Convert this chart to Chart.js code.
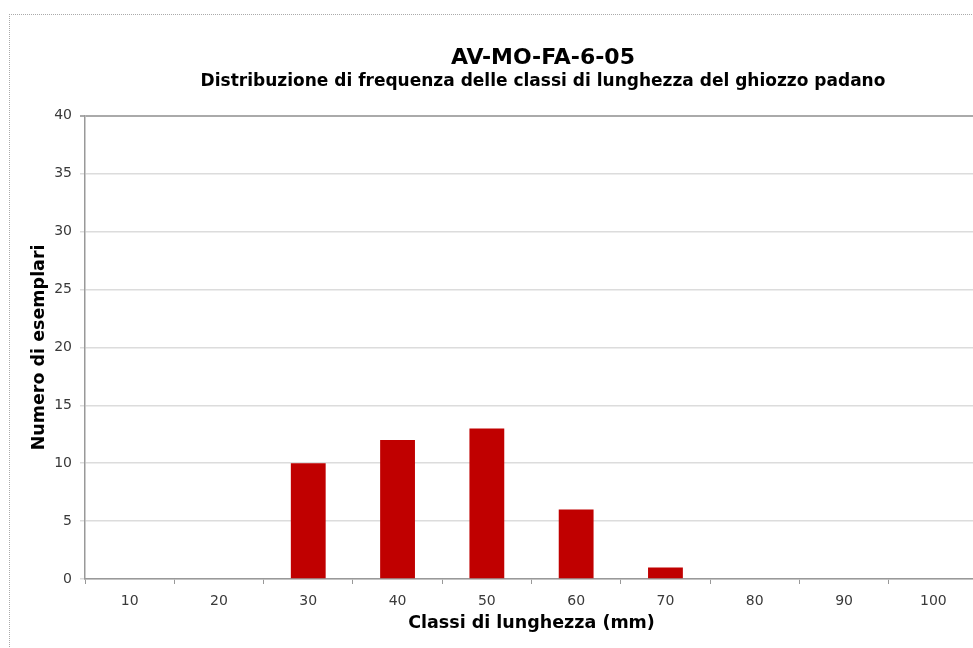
<!DOCTYPE html>
<html>
<head>
<meta charset="utf-8">
<script src="https://cdn.jsdelivr.net/npm/chart.js@4"></script>
<style>
    html, body { margin: 0; padding: 0; background: #fff; overflow: hidden; }
    #frame {
        position: absolute; left: 9px; top: 14px;
        width: 1200px; height: 800px;
        border-left: 1px dotted #aaa; border-top: 1px dotted #aaa;
    }
    #chart { display: block; }
</style>
</head>
<body>
<div id="frame">
    <canvas id="chart" width="1066" height="633"></canvas>
</div>
<script>
// length classes (mm) and number of specimens
const lengthClasses = ['10', '20', '30', '40', '50', '60', '70', '80', '90', '100'];
const specimenCounts = [0, 0, 10, 12, 13, 6, 1, 0, 0, 0];
const yTicks = { min: 0, max: 40, step: 5 };

const titleText = 'AV-MO-FA-6-05';
const subtitleText = 'Distribuzione di frequenza delle classi di lunghezza del ghiozzo padano';
const xTitle = 'Classi di lunghezza (mm)';
const yTitle = 'Numero di esemplari';

const fontFamily = "'DejaVu Sans', Verdana, sans-serif";

const ctx = document.getElementById('chart').getContext('2d');
new Chart(ctx, {
    type: 'bar',
    data: {
        labels: lengthClasses,
        datasets: [{
            data: specimenCounts,
            backgroundColor: '#C00000',
            borderWidth: 0,
            categoryPercentage: 1,
            barPercentage: 0.39
        }]
    },
    options: {
        responsive: false,
        animation: false,
        layout: { padding: 0 },
        plugins: {
            legend: { display: false },
            tooltip: { enabled: false },
            title: {
                display: true,
                text: titleText,
                color: '#000',
                font: { family: fontFamily, size: 22, weight: 'bold' },
                padding: { top: 30, bottom: 0 }
            },
            subtitle: {
                display: true,
                text: subtitleText,
                color: '#000',
                font: { family: fontFamily, size: 17, weight: 'bold' },
                padding: { top: 0, bottom: 24 }
            }
        },
        scales: {
            x: {
                grid: {
                    drawOnChartArea: false,
                    drawTicks: true,
                    tickLength: 5,
                    offset: true,
                    color: '#999'
                },
                border: { color: '#999', width: 1.5 },
                ticks: {
                    color: '#3a3a3a',
                    padding: 9,
                    font: { family: fontFamily, size: 14 }
                },
                title: {
                    display: true,
                    text: xTitle,
                    color: '#000',
                    font: { family: fontFamily, size: 17.5, weight: 'bold' },
                    padding: { top: 0, bottom: 14 }
                },
                afterFit: (scale) => { scale.height = 69; }
            },
            y: {
                min: yTicks.min,
                max: yTicks.max,
                ticks: {
                    stepSize: yTicks.step,
                    color: '#3a3a3a',
                    padding: 8,
                    font: { family: fontFamily, size: 14 }
                },
                grid: {
                    color: (c) => c.tick && c.tick.value === yTicks.max ? '#aaa' : '#dcdcdc',
                    lineWidth: (c) => c.tick && c.tick.value === yTicks.max ? 2 : 1.5,
                    tickLength: 5
                },
                border: { color: '#999', width: 1.5 },
                title: {
                    display: true,
                    text: yTitle,
                    color: '#000',
                    font: { family: fontFamily, size: 17.5, weight: 'bold' },
                    padding: { top: 19, bottom: 0 }
                },
                afterFit: (scale) => { scale.width = 75; }
            },
            // empty right-hand space so the titles centre on the whole chart object
            yRight: {
                position: 'right',
                display: true,
                grid: { display: false },
                border: { display: false },
                ticks: { display: false },
                afterFit: (scale) => { scale.width = 98; }
            }
        }
    }
});
</script>
</body>
</html>
